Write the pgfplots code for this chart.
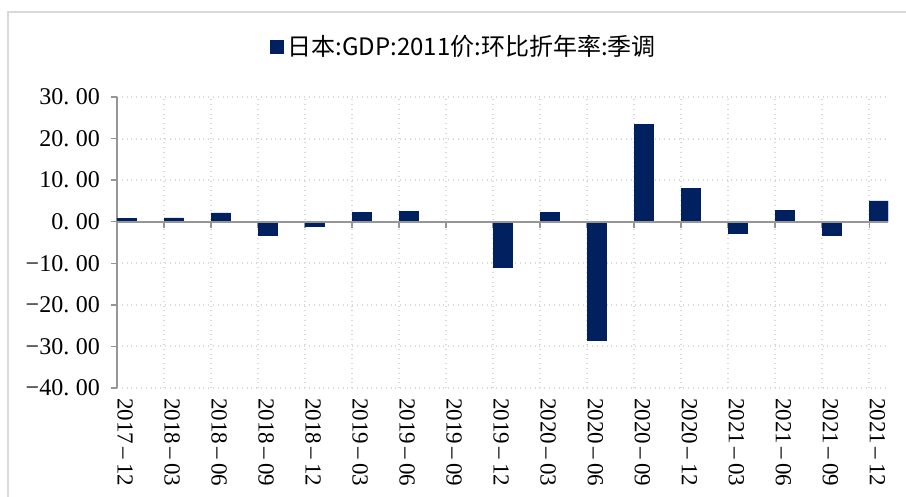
\documentclass[border=0pt]{standalone}
\usepackage{pgfplots}
\pgfplotsset{compat=1.18}
\usepackage{fontspec}
\setmainfont{Liberation Serif}
\newfontfamily\cjk{Noto Sans CJK SC}
\definecolor{navy}{RGB}{0,32,96}
\definecolor{axgray}{RGB}{150,150,150}
\definecolor{gridgray}{RGB}{217,217,217}
\begin{document}
\begin{tikzpicture}
\path[use as bounding box] (0,0) rectangle (453pt,248.5pt);
\draw[gridgray, line width=1pt] (4pt,0) -- (4pt,242.5pt) -- (453pt,242.5pt);
\begin{axis}[
  at={(58.5pt,54.5pt)},
  scale only axis, width=385.5pt, height=145.5pt,
  anchor=south west,
  xmin=0, xmax=16.4, ymin=-40, ymax=30,
  axis y line=left, axis x line=middle,
  axis line style={-, draw=axgray, line width=0.8pt},
  hide obscured x ticks=false, hide obscured y ticks=false,
  xtick={0,...,16},
  xticklabels={2017\,--\,12,2018\,--\,03,2018\,--\,06,2018\,--\,09,2018\,--\,12,2019\,--\,03,2019\,--\,06,2019\,--\,09,2019\,--\,12,2020\,--\,03,2020\,--\,06,2020\,--\,09,2020\,--\,12,2021\,--\,03,2021\,--\,06,2021\,--\,09,2021\,--\,12},
  xticklabel style={rotate=-90, anchor=south west, font=\fontsize{11.5}{12}\selectfont, inner sep=0pt},
  xticklabel shift=85pt,
  ytick={-40,-30,...,30},
  yticklabels={−40.\;00,−30.\;00,−20.\;00,−10.\;00,0.\;00,10.\;00,20.\;00,30.\;00},
  yticklabel style={font=\fontsize{12}{13}\selectfont, xshift=-2pt},
  tick align=outside,
  major tick length=3pt,
  tick style={draw=axgray, line width=0.7pt},
  grid=major,
  major grid style={draw=gridgray, dotted, line width=1pt},
  ybar, bar width=9.5pt, bar shift=4.75pt,
  legend style={at={(0.451,1.172)}, anchor=center, draw=none, fill=none,
    font=\cjk\fontsize{12}{13}\selectfont, inner sep=0pt},
  legend image code/.code={\fill[navy] (0pt,-3.25pt) rectangle (6.5pt,3.25pt);},
]
\addplot[fill=navy, draw=navy] coordinates {
(0,0.8) (1,0.9) (2,2.1) (3,-3.3) (4,-1.2) (5,2.3) (6,2.5) (7,0)
(8,-10.9) (9,2.2) (10,-28.5) (11,23.3) (12,8.1) (13,-2.7) (14,2.8) (15,-3.3) (16,5.0)};
\addlegendentry{日本:GDP:2011价:环比折年率:季调}
\draw[axgray, line width=0.8pt] (axis cs:0,0) -- (axis cs:16.4,0);
\end{axis}
\end{tikzpicture}
\end{document}
